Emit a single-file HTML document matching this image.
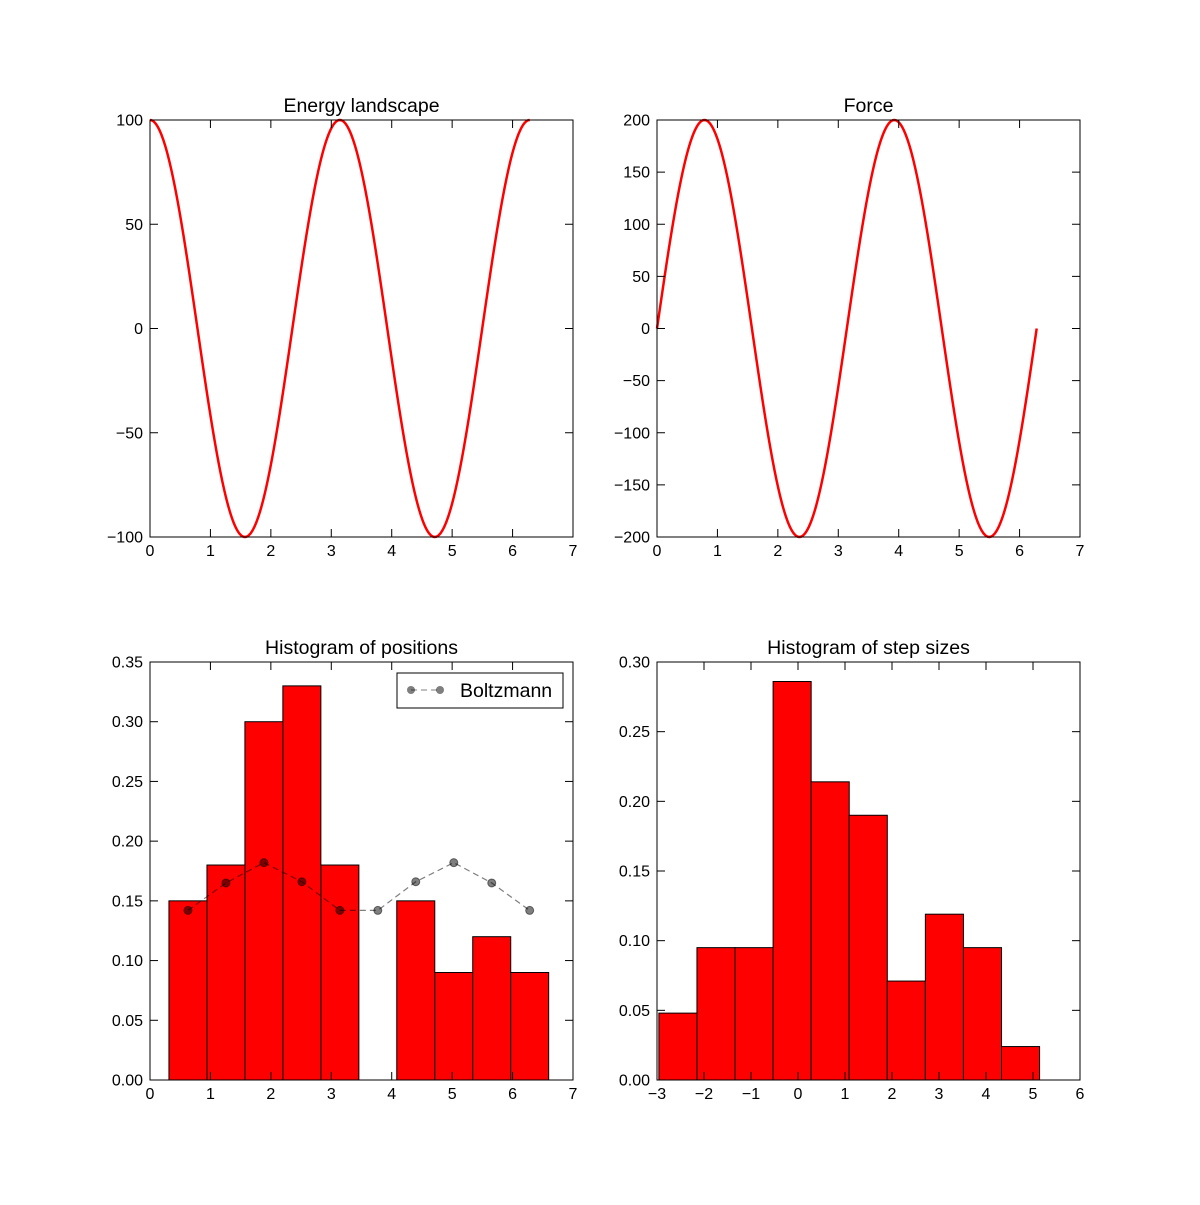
<!DOCTYPE html>
<html><head><meta charset="utf-8"><style>
body{margin:0;background:#fff}
svg text{font-family:"Liberation Sans","DejaVu Sans",sans-serif}
</style></head><body>
<svg id="fig" width="1200" height="1200" xmlns="http://www.w3.org/2000/svg">
<rect width="1200" height="1200" fill="#fff"/>
</svg>
<script>
// Data
const posCenters=[0.628,1.257,1.885,2.513,3.142,3.770,4.398,5.027,5.655,6.283];
const posHist=[0.15,0.18,0.30,0.33,0.18,0.0,0.15,0.09,0.12,0.09];
const boltzmann=[0.142,0.165,0.182,0.166,0.142,0.142,0.166,0.182,0.165,0.142];
const stepEdgeStart=-2.96;
const stepBinWidth=0.81;
const stepHist=[0.048,0.095,0.095,0.286,0.214,0.19,0.071,0.119,0.095,0.024];
const energyAmp=100, forceAmp=200;
const xTicks7=[0,1,2,3,4,5,6,7];
const eTicks=[-100,-50,0,50,100];
const fTicks=[-200,-150,-100,-50,0,50,100,150,200];
const pTicks=[0,0.05,0.10,0.15,0.20,0.25,0.30,0.35];
const sYTicks=[0,0.05,0.10,0.15,0.20,0.25,0.30];
const sXTicks=[-3,-2,-1,0,1,2,3,4,5,6];

const NS="http://www.w3.org/2000/svg";
const fig=document.getElementById('fig');
function mk(tag,attrs,parent){const e=document.createElementNS(NS,tag);for(const k in attrs)e.setAttribute(k,attrs[k]);(parent||fig).appendChild(e);return e;}
function fmt(v,dec){let s=v.toFixed(dec);return s.replace('-','\u2212');}

function axes(name,x0,y0,w,h,xmin,xmax,ymin,ymax,xt,yt,ydec,title){
  const g=mk('g',{});
  
  
  const sx=v=>x0+(v-xmin)/(xmax-xmin)*w;
  const sy=v=>y0+h-(v-ymin)/(ymax-ymin)*h;
  const t=mk('text',{x:x0+w/2,y:y0-8,'text-anchor':'middle','font-size':19.5},g);
  t.textContent=title;
  
  
  return {g,sx,sy,finish(){
    for(const v of xt){const X=sx(v);
      mk('line',{x1:X,x2:X,y1:y0+h,y2:y0+h-8,stroke:'#000'},g);
      mk('line',{x1:X,x2:X,y1:y0,y2:y0+8,stroke:'#000'},g);
      const tt=mk('text',{x:X,y:y0+h+19,'text-anchor':'middle','font-size':16},g);tt.textContent=fmt(v,0);
      
      }
    for(const v of yt){const Y=sy(v);
      mk('line',{x1:x0,x2:x0+8,y1:Y,y2:Y,stroke:'#000'},g);
      mk('line',{x1:x0+w,x2:x0+w-8,y1:Y,y2:Y,stroke:'#000'},g);
      const tt=mk('text',{x:x0-7,y:Y+5.5,'text-anchor':'end','font-size':16},g);tt.textContent=fmt(v,ydec);
      
      }
    const fr=mk('rect',{x:x0,y:y0,width:w,height:h,fill:'none',stroke:'#000','stroke-width':1},g);
    
    
  }};
}

// Energy
let a=axes('energy-landscape-chart',150,120,423,417,0,7,-100,100,xTicks7,eTicks,0,'Energy landscape');
let pts=[];for(let i=0;i<=400;i++){const x=2*Math.PI*i/400;pts.push(a.sx(x)+','+a.sy(energyAmp*Math.cos(2*x)));}
let l=mk('polyline',{points:pts.join(' '),fill:'none',stroke:'#f00','stroke-width':2.5},a.g);


a.finish();

// Force
a=axes('force-chart',657,120,423,417,0,7,-200,200,xTicks7,fTicks,0,'Force');
pts=[];for(let i=0;i<=400;i++){const x=2*Math.PI*i/400;pts.push(a.sx(x)+','+a.sy(forceAmp*Math.sin(2*x)));}
l=mk('polyline',{points:pts.join(' '),fill:'none',stroke:'#f00','stroke-width':2.5},a.g);


a.finish();

// Histogram positions
a=axes('positions-histogram',150,662,423,418,0,7,0,0.35,xTicks7,pTicks,2,'Histogram of positions');
const bw=posCenters[1]-posCenters[0];
posHist.forEach((v,i)=>{const x1=a.sx(posCenters[i]-bw/2),x2=a.sx(posCenters[i]+bw/2);
  if(v<=0)return;
  const r=mk('rect',{x:x1,y:a.sy(v),width:x2-x1,height:a.sy(0)-a.sy(v),fill:'#f00',stroke:'#000','stroke-width':1},a.g);
  
  });
l=mk('polyline',{points:boltzmann.map((v,i)=>a.sx(posCenters[i])+','+a.sy(v)).join(' '),fill:'none',stroke:'#000','stroke-opacity':0.5,'stroke-dasharray':'6,4','stroke-width':1.2},a.g);


boltzmann.forEach((v,i)=>{const c=mk('circle',{cx:a.sx(posCenters[i]),cy:a.sy(v),r:4,fill:'#000','fill-opacity':0.5,stroke:'#000','stroke-opacity':0.5},a.g);
  
  });
const lg=mk('g',{},a.g);


mk('rect',{x:397,y:673,width:166,height:35,fill:'#fff',stroke:'#000'},lg);
mk('line',{x1:411,x2:440,y1:690,y2:690,stroke:'#000','stroke-opacity':0.5,'stroke-dasharray':'6,4'},lg);
mk('circle',{cx:411,cy:690,r:4,fill:'#000','fill-opacity':0.5},lg);
mk('circle',{cx:440,cy:690,r:4,fill:'#000','fill-opacity':0.5},lg);
const lt=mk('text',{x:460,y:697,'font-size':19.5},lg);lt.textContent='Boltzmann';


a.finish();

// Histogram steps
a=axes('step-sizes-histogram',657,662,423,418,-3,6,0,0.30,sXTicks,sYTicks,2,'Histogram of step sizes');
stepHist.forEach((v,i)=>{const x1=a.sx(stepEdgeStart+i*stepBinWidth),x2=a.sx(stepEdgeStart+(i+1)*stepBinWidth);
  const r=mk('rect',{x:x1,y:a.sy(v),width:x2-x1,height:a.sy(0)-a.sy(v),fill:'#f00',stroke:'#000','stroke-width':1},a.g);
  
  });
a.finish();
</script>
</body></html>
